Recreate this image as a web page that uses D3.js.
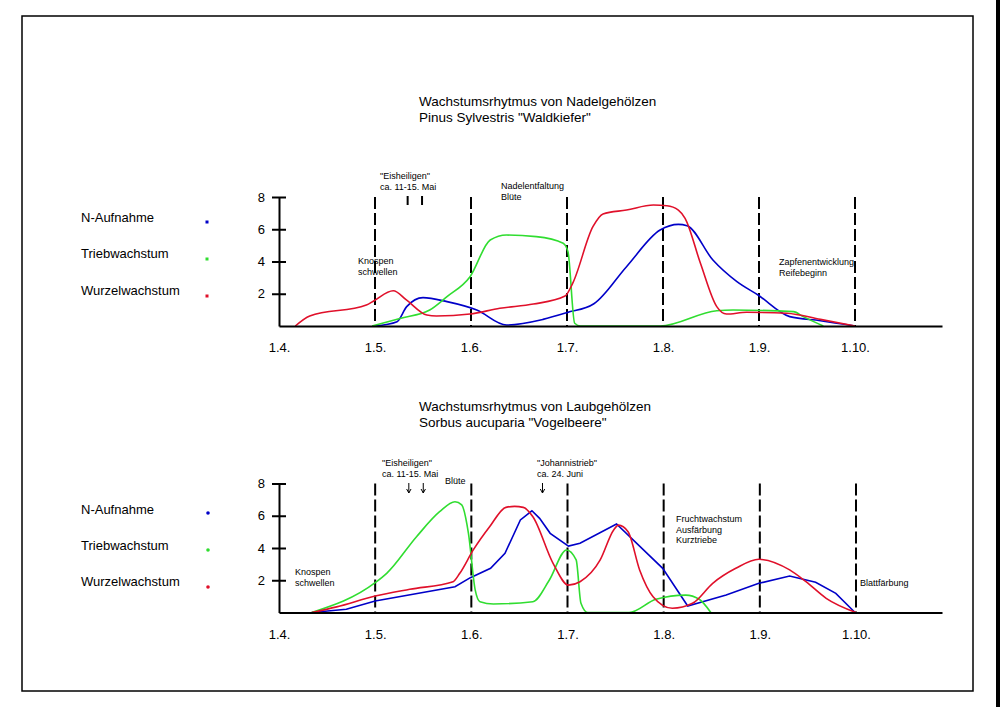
<!DOCTYPE html>
<html><head><meta charset="utf-8">
<script src="https://cdn.jsdelivr.net/npm/d3@7"></script>
<style>
html,body{margin:0;padding:0;background:#fff;}
svg{display:block;font-family:"Liberation Sans",Arial,sans-serif;}
</style></head>
<body>
<svg id="c" width="1000" height="707"></svg>
<script>
// ---- data ----
const months = [4,5,6,7,8,9,10];
const monthLabels = ["1.4.","1.5.","1.6.","1.7.","1.8.","1.9.","1.10."];
const yTicks = [2,4,6,8];
const seriesNames = ["N-Aufnahme","Triebwachstum","Wurzelwachstum"];
const seriesColors = ["#0000c8","#30dd30","#e0102a"];

// Nadelgehölze (Pinus sylvestris) — [month, value]
const pineN = [[5.0,0],[5.23,0.27],[5.33,1.2],[5.5,1.76],[5.75,1.51],[6.06,0.99],[6.37,0.06],[6.75,0.41],[7.0,0.83],[7.28,1.38],[7.62,3.68],[7.97,5.95],[8.16,6.3],[8.25,6.22],[8.52,4.09],[8.77,2.75],[8.99,1.92],[9.32,0.58],[9.64,0.33],[10.0,0]];
const pineShoot = [[4.97,0],[5.26,0.47],[5.57,0.99],[5.75,1.82],[5.99,3.06],[6.2,5.33],[6.37,5.64],[6.68,5.54],[6.96,5.13],[7.01,4.61],[7.08,0.17],[7.14,0],[7.97,0],[8.56,0.95],[8.73,0.99],[9.36,0.89],[9.46,0.58],[9.67,0]];
const pineRoot = [[4.17,0],[4.32,0.62],[4.91,1.3],[4.99,1.57],[5.19,2.19],[5.33,1.6],[5.54,0.68],[5.64,0.62],[5.99,0.74],[6.3,1.1],[6.65,1.36],[6.98,1.86],[7.06,2.66],[7.27,6.16],[7.375,6.95],[7.62,7.19],[7.9,7.5],[8.04,7.46],[8.16,7.19],[8.23,6.68],[8.39,3.89],[8.56,1.2],[8.66,0.74],[8.87,0.85],[9.29,0.79],[9.64,0.41],[10.0,0]];

// Laubgehölze (Sorbus aucuparia) — [month, value]
const sorbusN = [[4.34,0],[4.7,0.2],[5.0,0.71],[5.83,1.6],[5.99,2.16],[6.2,2.74],[6.35,3.67],[6.51,5.74],[6.63,6.31],[6.71,5.84],[6.82,4.91],[7.01,4.12],[7.13,4.29],[7.51,5.49],[7.99,2.74],[8.25,0.4],[8.65,1.08],[8.99,1.81],[9.31,2.26],[9.58,1.87],[9.79,1.19],[9.99,0]];
const sorbusShoot = [[4.34,0],[5.0,1.85],[5.12,2.43],[5.43,4.7],[5.67,6.25],[5.83,6.87],[5.9,6.67],[5.97,4.91],[6.04,1.4],[6.09,0.67],[6.23,0.53],[6.64,0.67],[6.81,2.0],[6.99,3.88],[7.09,3.26],[7.14,0.57],[7.21,0],[7.64,0],[7.92,0.82],[8.23,1.08],[8.37,0.82],[8.49,0]];
const sorbusRoot = [[4.34,0],[4.6,0.35],[5.0,1.02],[5.36,1.44],[5.81,1.91],[5.88,2.43],[6.02,3.88],[6.19,5.32],[6.36,6.52],[6.45,6.58],[6.54,6.52],[6.64,5.94],[6.85,3.05],[7.01,1.7],[7.13,1.91],[7.34,3.26],[7.48,5.12],[7.53,5.42],[7.63,5.01],[7.75,2.64],[7.89,0.98],[8.09,0.26],[8.3,0.57],[8.51,1.81],[8.75,2.74],[8.99,3.3],[9.31,2.64],[9.48,1.91],[9.69,0.88],[10.0,0]];

const charts = [
  {title:["Wachstumsrhytmus von Nadelgehölzen","Pinus Sylvestris \"Waldkiefer\""],
   series:[pineN,pineShoot,pineRoot], curves:[d3.curveMonotoneX,d3.curveMonotoneX,d3.curveMonotoneX],
   marker:"square", top:197, base:326, x0:279, x10:855, titleY:106, legendY:[217,253,290], markerY:[222,259,296],
   notes:[
     {x:380,y:179,lines:["\"Eisheiligen\"","ca. 11-15. Mai"]},
     {x:358,y:264,lines:["Knospen","schwellen"]},
     {x:501,y:189,lines:["Nadelentfaltung","Blüte"]},
     {x:779,y:265,lines:["Zapfenentwicklung","Reifebeginn"]}
   ],
   arrows:[{m:5.34,y1:196,y2:205,head:false},{m:5.49,y1:196,y2:205,head:false}]
  },
  {title:["Wachstumsrhytmus von Laubgehölzen","Sorbus aucuparia \"Vogelbeere\""],
   series:[sorbusN,sorbusShoot,sorbusRoot], curves:[d3.curveLinear,d3.curveMonotoneX,d3.curveMonotoneX],
   marker:"circle", top:483.5, base:612.5, x0:279, x10:856, titleY:411, legendY:[509,545,581], markerY:[513,550,587],
   notes:[
     {x:382,y:466,lines:["\"Eisheiligen\"","ca. 11-15. Mai"]},
     {x:445,y:484,lines:["Blüte"]},
     {x:537,y:466,lines:["\"Johannistrieb\"","ca. 24. Juni"]},
     {x:295,y:575,lines:["Knospen","schwellen"]},
     {x:676,y:522,lines:["Fruchtwachstum","Ausfärbung","Kurztriebe"]},
     {x:860,y:586,lines:["Blattfärbung"]}
   ],
   arrows:[{m:5.35,y1:483,y2:493,head:true},{m:5.50,y1:483,y2:493,head:true},{m:6.74,y1:483,y2:493,head:true}]
  }
];

const svg = d3.select("#c");
svg.append("rect").attr("x",22).attr("y",16).attr("width",951).attr("height",675)
  .attr("fill","none").attr("stroke","#000").attr("stroke-width",1.5);
svg.append("rect").attr("x",996).attr("y",0).attr("width",4).attr("height",707).attr("fill","#000");

charts.forEach(ch => {
  const g = svg.append("g");
  const pxPerMonth = (ch.x10 - ch.x0)/6;
  const x = d3.scaleLinear().domain([4, 4 + (942 - ch.x0)/pxPerMonth]).range([ch.x0, 942]);
  const y = d3.scaleLinear().domain([0,8]).range([ch.base, ch.top]);

  // titles
  g.selectAll("text.title").data(ch.title).join("text")
    .attr("x",419).attr("y",(d,i)=>ch.titleY + i*16)
    .attr("font-size",13.5).text(d=>d);

  // dashed month lines
  g.selectAll("line.dash").data(months.slice(1)).join("line")
    .attr("x1",d=>x(d)).attr("x2",d=>x(d)).attr("y1",y(8)).attr("y2",y(0))
    .attr("stroke","#000").attr("stroke-width",2).attr("stroke-dasharray","12,4");

  // series
  const line = d3.line().x(d=>x(d[0])).y(d=>y(d[1]));
  ch.series.forEach((s,i) => {
    g.append("path").datum(s).attr("d", line.curve(ch.curves[i])(s))
      .attr("fill","none").attr("stroke",seriesColors[i]).attr("stroke-width",1.6);
  });

  // x axis
  const xa = g.append("g").attr("transform",`translate(0,${ch.base})`)
    .call(d3.axisBottom(x).tickValues(months).tickFormat((d,i)=>monthLabels[i]).tickSize(0).tickPadding(17));
  xa.select(".domain").attr("stroke-width",2);
  xa.selectAll("text").attr("font-size",13).attr("font-family","Liberation Sans, Arial, sans-serif").attr("fill","#000");

  // y axis
  const ya = g.append("g").attr("transform",`translate(${ch.x0},0)`)
    .call(d3.axisLeft(y).tickValues(yTicks).tickSize(7).tickSizeOuter(0).tickPadding(7));
  ya.select(".domain").attr("stroke-width",2);
  ya.selectAll(".tick line").attr("stroke-width",2);
  ya.selectAll(".tick").append("line").attr("x1",0).attr("x2",7).attr("stroke","#000").attr("stroke-width",2);
  ya.selectAll("text").attr("font-size",13).attr("font-family","Liberation Sans, Arial, sans-serif").attr("fill","#000");

  // legend
  seriesNames.forEach((n,i) => {
    g.append("text").attr("x",81).attr("y",ch.legendY[i]+5).attr("font-size",13).text(n);
    if (ch.marker === "square")
      g.append("rect").attr("x",205.5).attr("y",ch.markerY[i]-1.5).attr("width",3).attr("height",3).attr("fill",seriesColors[i]);
    else
      g.append("circle").attr("cx",208).attr("cy",ch.markerY[i]).attr("r",1.8).attr("fill",seriesColors[i]);
  });

  // notes
  ch.notes.forEach(n => {
    const t = g.append("text").attr("x",n.x).attr("y",n.y).attr("font-size",9);
    n.lines.forEach((l,i)=> t.append("tspan").attr("x",n.x).attr("dy",i?10.7:0).text(l));
  });

  // arrows
  ch.arrows.forEach(a => {
    const ax = x(a.m);
    g.append("line").attr("x1",ax).attr("x2",ax).attr("y1",a.y1).attr("y2",a.y2)
      .attr("stroke","#000").attr("stroke-width",a.head?1:2);
    if (a.head)
      g.append("path").attr("d",`M${ax-2.2},${a.y2-4}L${ax},${a.y2}L${ax+2.2},${a.y2-4}`)
        .attr("fill","none").attr("stroke","#000").attr("stroke-width",1);
  });
});
</script>
</body></html>
